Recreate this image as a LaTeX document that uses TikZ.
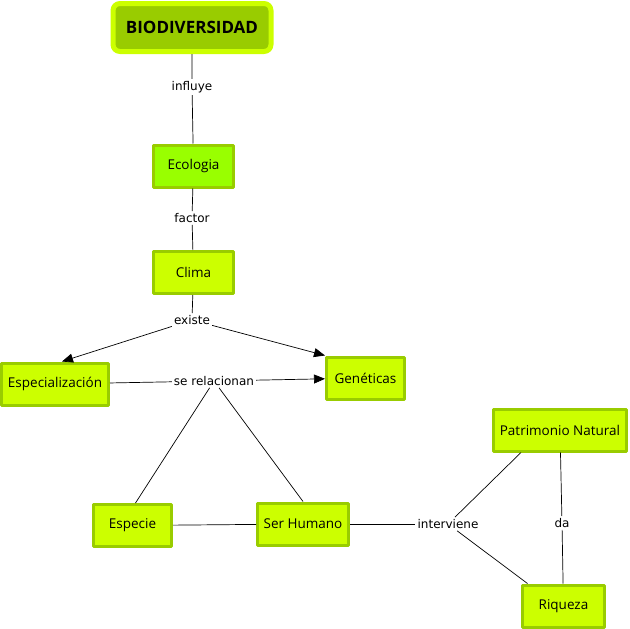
\documentclass[tikz,border=0pt]{standalone}
\usepackage{fontspec}
\setmainfont{DejaVu Sans}
\newfontfamily\conceptfont{Open Sans}
\usetikzlibrary{arrows.meta}
\begin{document}
\begin{tikzpicture}[x=1pt,y=-1pt,>={Triangle[length=11pt,width=9pt]}, line join=round,
	concepto/.style={draw=verdeosc, fill=lima, line width=3pt, minimum height=42pt, inner sep=2pt, font=\conceptfont\fontsize{13.5}{15}\selectfont},
	enlace/.style={fill=white, inner sep=2pt, font=\fontsize{12}{14}\selectfont},
	linea/.style={line width=0.7pt}]
	\definecolor{lima}{HTML}{CCFF00} \definecolor{verdeosc}{HTML}{99CC00} \definecolor{verdeclaro}{HTML}{99FF00}
	\useasboundingbox (0,0) rectangle (630,629);
	% conceptos
	\node[concepto, draw=lima, fill=verdeosc, line width=5pt, rounded corners=7pt, minimum width=158pt, minimum height=48pt, font=\conceptfont\bfseries\fontsize{17}{19}\selectfont] (bio) at (192,27.5) {BIODIVERSIDAD};
	\node[concepto, fill=verdeclaro, minimum width=80pt] (eco) at (193.5,166) {Ecologia};
	\node[concepto, minimum width=80pt] (clima) at (193.5,272.5) {Clima};
	\node[concepto, minimum width=107pt] (espz) at (55,384) {Especialización};
	\node[concepto, minimum width=78pt] (gen) at (365.5,378) {Genéticas};
	\node[concepto, minimum width=78pt] (esp) at (132.5,525.5) {Especie};
	\node[concepto, minimum width=91pt] (ser) at (303,524) {Ser Humano};
	\node[concepto, minimum width=133pt] (pat) at (560,430) {Patrimonio Natural};
	\node[concepto, minimum width=82pt] (riq) at (563.5,606) {Riqueza};
	% frases de enlace
	\node[enlace] (influye) at (192,87) {influye};
	\node[enlace] (factor) at (192,218) {factor};
	\node[enlace] (existe) at (192,320) {existe};
	\node[enlace] (serel) at (214,381) {se relacionan};
	\node[enlace] (interv) at (448,524) {interviene};
	\node[enlace] (da) at (562,523) {da};
	% conexiones
	\draw[linea] (bio) -- (influye) -- (eco);
	\draw[linea] (eco) -- (factor) -- (clima);
	\draw[linea] (clima) -- (existe);
	\draw[linea,->] (existe) -- ([xshift=7pt]espz.north);
	\draw[linea,->] (existe) -- (gen.north west);
	\draw[linea] (espz) -- (serel);
	\draw[linea,->] (serel) -- (gen);
	\draw[linea] (serel) -- ([xshift=3pt]esp.north);
	\draw[linea] (serel) -- (ser.north);
	\draw[linea] (esp) -- (ser);
	\draw[linea] (ser) -- (interv);
	\draw[linea] (interv) -- ([xshift=-39pt]pat.south);
	\draw[linea] (interv) -- ([xshift=-36pt]riq.north);
	\draw[linea] (pat) -- (da) -- (riq);
\end{tikzpicture}
\end{document}
